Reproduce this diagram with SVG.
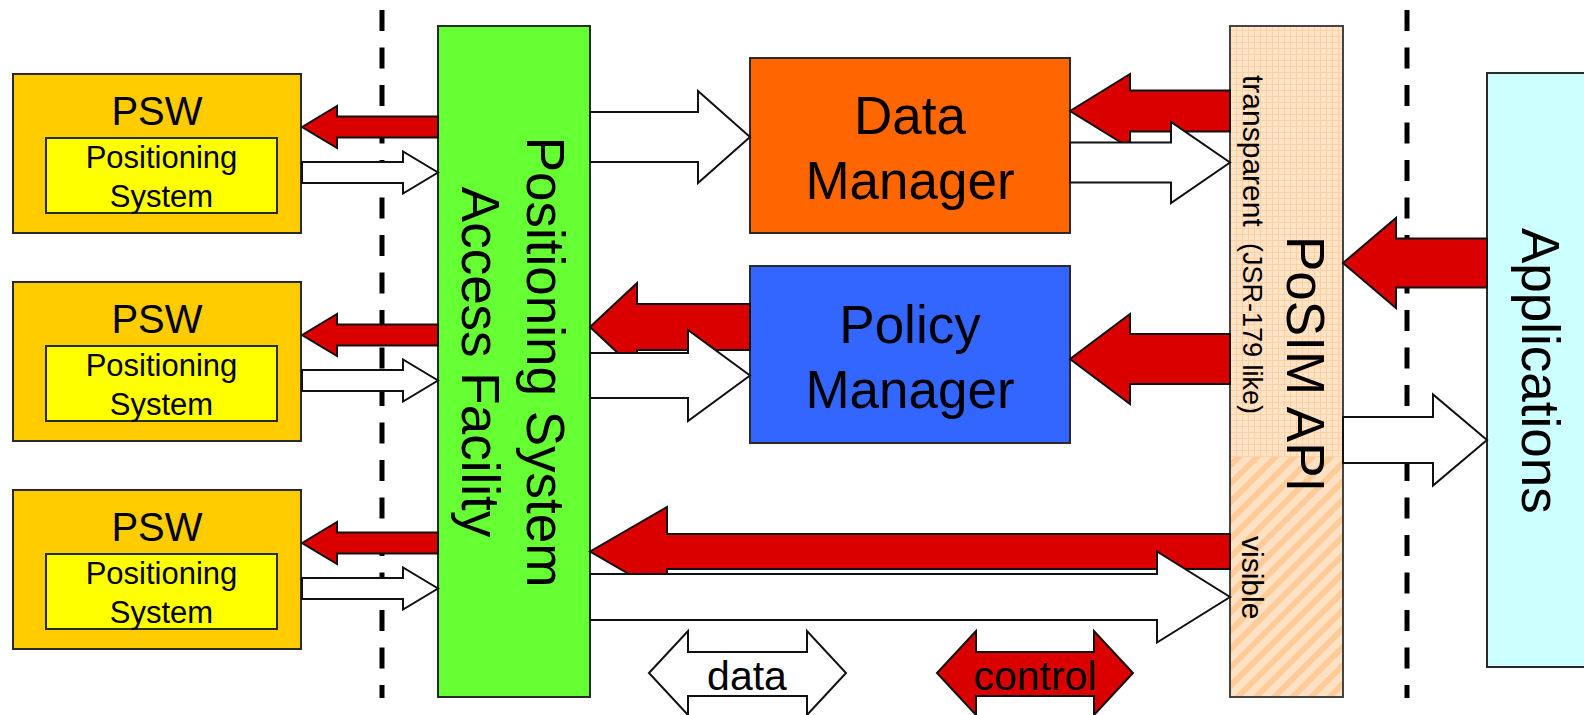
<svg xmlns="http://www.w3.org/2000/svg" width="1584" height="715" viewBox="0 0 1584 715">
<style>
text{font-family:"Liberation Sans",Arial,sans-serif;fill:#000}
.box{stroke:#2a2a2a;stroke-width:2}
.psw{fill:#FFCC00}
.ps{fill:#FFFF00}
.red{fill:#DA0000;stroke:#111;stroke-width:2;stroke-linejoin:miter}
.wht{fill:#FFFFFF;stroke:#111;stroke-width:2;stroke-linejoin:miter}
.dash{stroke:#000;stroke-width:5;stroke-dasharray:21 16.5;fill:none}
.t40{font-size:40px}
.t31{font-size:31px}
.t53{font-size:53px}
.t41{font-size:41px}
</style>
<defs>
<pattern id="grid" width="6" height="6" patternUnits="userSpaceOnUse">
<rect width="6" height="6" fill="#FFE4C8"/>
<path d="M0 0.5H6M0.5 0V6" stroke="#FFD0A2" stroke-width="1"/>
</pattern>
<pattern id="diag" width="13" height="13" patternUnits="userSpaceOnUse" patternTransform="rotate(45)">
<rect width="13" height="13" fill="#FFE2C4"/>
<rect width="6" height="13" fill="#FFCC99"/>
</pattern>
</defs>

<g id="separators">
<line class="dash" x1="382" y1="10" x2="382" y2="698"/>
<line class="dash" x1="1407" y1="10" x2="1407" y2="698"/>
</g>

<g id="psw1">
<rect class="box psw" x="13" y="74" width="288" height="159"/>
<text class="t40" x="157" y="125" text-anchor="middle">PSW</text>
<rect class="box ps" x="46" y="138" width="231" height="75"/>
<text class="t31" x="161.5" y="168" text-anchor="middle">Positioning</text>
<text class="t31" x="161.5" y="207" text-anchor="middle">System</text>
</g>
<g id="psw2">
<rect class="box psw" x="13" y="282" width="288" height="159"/>
<text class="t40" x="157" y="333" text-anchor="middle">PSW</text>
<rect class="box ps" x="46" y="346" width="231" height="75"/>
<text class="t31" x="161.5" y="376" text-anchor="middle">Positioning</text>
<text class="t31" x="161.5" y="415" text-anchor="middle">System</text>
</g>
<g id="psw3">
<rect class="box psw" x="13" y="490" width="288" height="159"/>
<text class="t40" x="157" y="541" text-anchor="middle">PSW</text>
<rect class="box ps" x="46" y="554" width="231" height="75"/>
<text class="t31" x="161.5" y="584" text-anchor="middle">Positioning</text>
<text class="t31" x="161.5" y="623" text-anchor="middle">System</text>
</g>

<g id="psaf">
<rect class="box" x="438" y="26" width="152" height="671" fill="#66FF33"/>
<text class="t53" transform="translate(527,362) rotate(90)" text-anchor="middle">Positioning System</text>
<text class="t53" transform="translate(462,362) rotate(90)" text-anchor="middle">Access Facility</text>
</g>

<g id="data-manager">
<rect class="box" x="750" y="58" width="320" height="175" fill="#FF6600"/>
<text class="t53" x="910" y="134" text-anchor="middle">Data</text>
<text class="t53" x="910" y="199" text-anchor="middle">Manager</text>
</g>

<g id="policy-manager">
<rect class="box" x="750" y="266" width="320" height="177" fill="#3366FF"/>
<text class="t53" x="910" y="343" text-anchor="middle">Policy</text>
<text class="t53" x="910" y="408" text-anchor="middle">Manager</text>
</g>

<g id="posim-api">
<rect x="1230" y="26" width="113" height="431" fill="url(#grid)"/>
<rect x="1230" y="457" width="113" height="240" fill="url(#diag)"/>
<rect x="1230" y="26" width="113" height="671" fill="none" stroke="#444" stroke-width="2"/>
<text style="font-size:30px" transform="translate(1243,75) rotate(90)">transparent</text>
<text style="font-size:27px" transform="translate(1243,243) rotate(90)">(JSR-179 like)</text>
<text style="font-size:30px" transform="translate(1242,536) rotate(90)">visible</text>
<text class="t53" transform="translate(1287,236) rotate(90)">PoSIM API</text>
</g>

<g id="applications">
<rect class="box" x="1487" y="73" width="150" height="594" fill="#CCFFFF"/>
<text class="t53" transform="translate(1522,228) rotate(90)">Applications</text>
</g>

<g id="connectors">
<polygon class="red" points="302,127 337,106 337,116.5 438,116.5 438,137.5 337,137.5 337,148"/>
<polygon class="red" points="302,335 337,314 337,324.5 438,324.5 438,345.5 337,345.5 337,356"/>
<polygon class="red" points="302,543 337,522 337,532.5 438,532.5 438,553.5 337,553.5 337,564"/>
<polygon class="wht" points="302,162 403,162 403,151.5 438,172.5 403,193.5 403,183 302,183"/>
<polygon class="wht" points="302,370 403,370 403,359.5 438,380.5 403,401.5 403,391 302,391"/>
<polygon class="wht" points="302,578 403,578 403,567.5 438,588.5 403,609.5 403,599 302,599"/>

<polygon class="red" points="1070,111 1130,74 1130,90.5 1230,90.5 1230,131.5 1130,131.5 1130,148"/>
<polygon class="red" points="590,327 637,283 637,304 750,304 750,350 637,350 637,371"/>
<polygon class="red" points="1070,359 1130,314 1130,334 1230,334 1230,384 1130,384 1130,404"/>
<polygon class="red" points="1343,263 1396,218 1396,238.5 1487,238.5 1487,287.5 1396,287.5 1396,308"/>
<polygon class="red" points="590,551.5 667,507 667,534 1230,534 1230,569 667,569 667,596"/>

<polygon class="wht" points="590,112 698,112 698,91 750,137 698,183 698,162 590,162"/>
<polygon class="wht" points="1070,142.5 1171,142.5 1171,122 1230,162.5 1171,203 1171,182.5 1070,182.5"/>
<polygon class="wht" points="590,353 688,353 688,330 750,375.5 688,421 688,398 590,398"/>
<polygon class="wht" points="1343,417 1433,417 1433,394.5 1487,440 1433,485.5 1433,463 1343,463"/>
<polygon class="wht" points="590,574 1157,574 1157,551.5 1230,597 1157,642.5 1157,620 590,620"/>
</g>

<g id="legend">
<polygon class="wht" points="649,673 688,631 688,652 807,652 807,631 846,673 807,715 807,696 688,696 688,715"/>
<text class="t41" x="747" y="690" text-anchor="middle">data</text>
<polygon class="red" points="937,673 976,631 976,652 1094,652 1094,631 1133,673 1094,715 1094,696 976,696 976,715"/>
<text class="t41" x="1035" y="690" text-anchor="middle">control</text>
</g>
</svg>
